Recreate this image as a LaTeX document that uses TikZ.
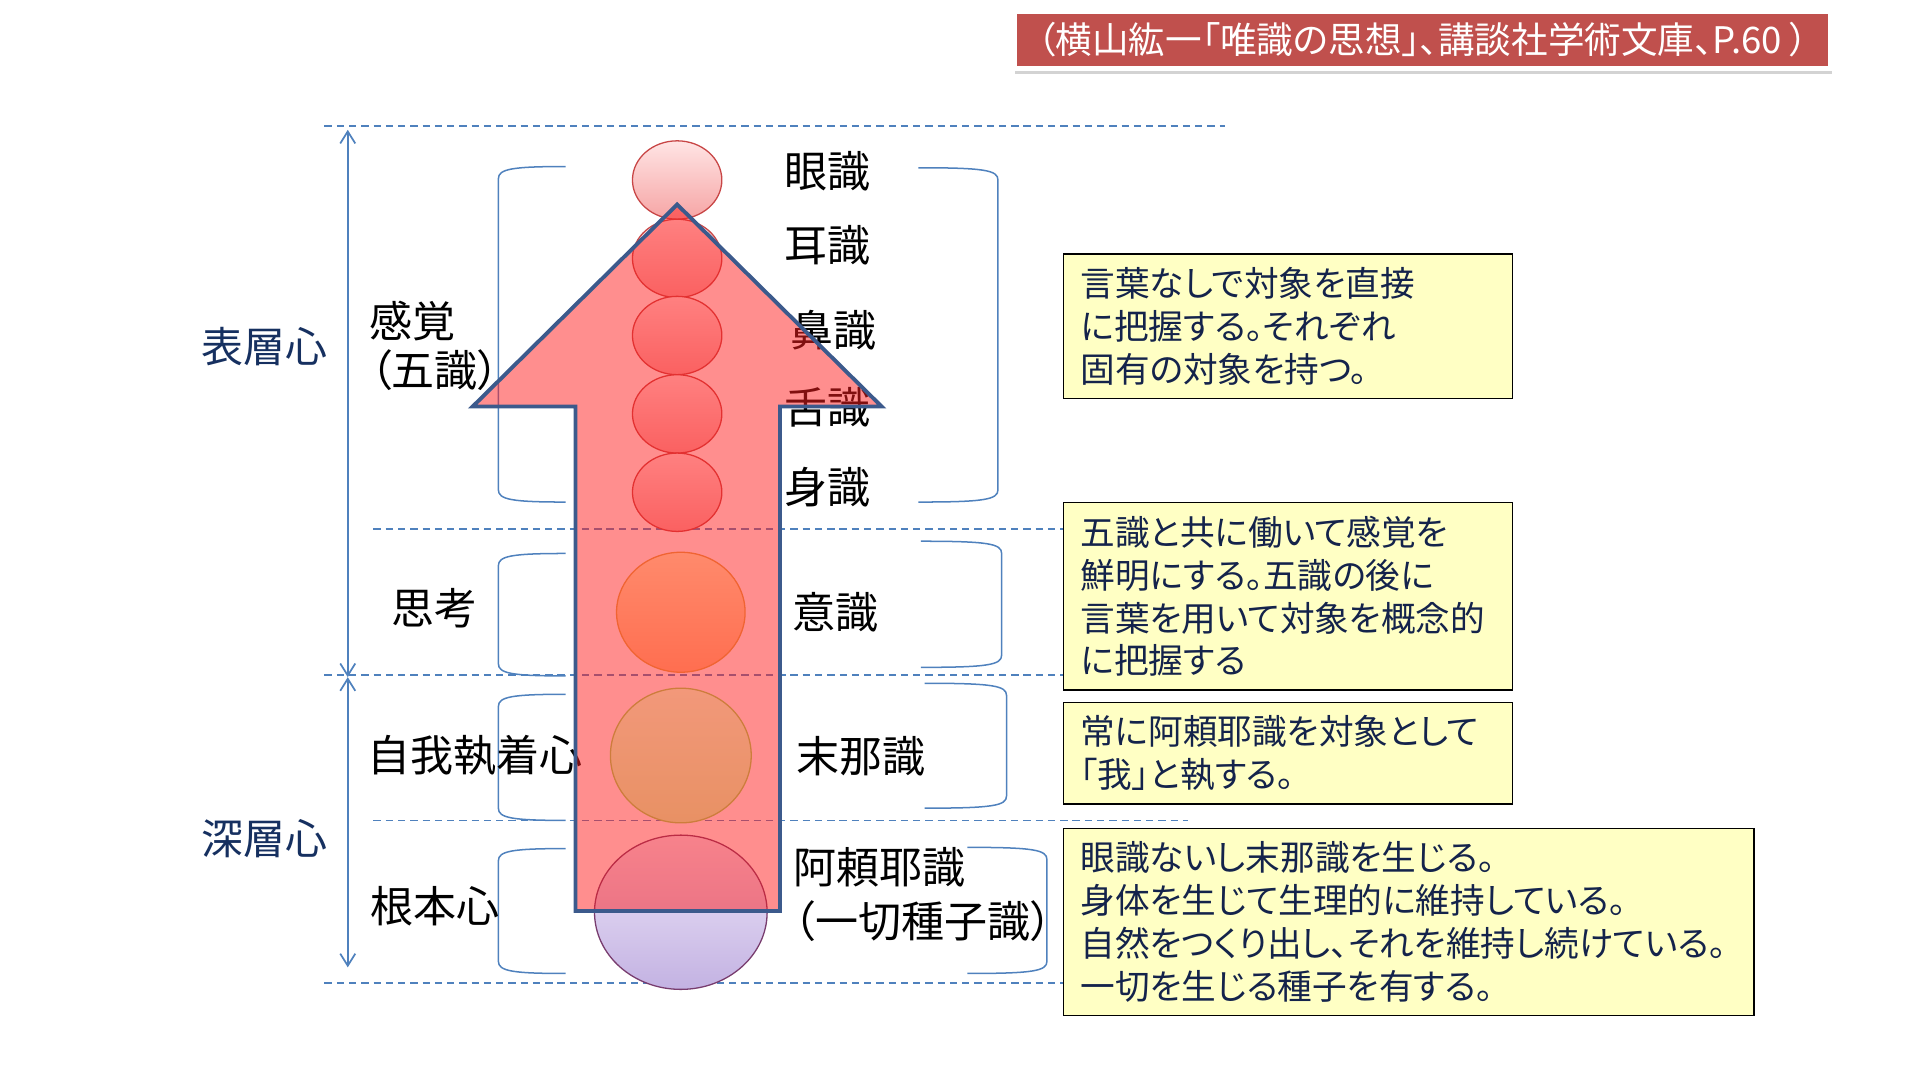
\documentclass[tikz,border=0pt]{standalone}
\usepackage{fontspec}
\usetikzlibrary{arrows.meta,shapes.geometric,shadows}
\newfontfamily\jp[RawFeature=+palt]{Noto Sans CJK JP}
\definecolor{lineblue}{RGB}{79,129,189}
\definecolor{navy}{RGB}{22,48,96}
\definecolor{titlered}{RGB}{192,80,77}
\definecolor{arrowred}{RGB}{255,30,30}
\definecolor{arrowedge}{RGB}{60,90,140}
\definecolor{memofill}{RGB}{255,255,196}
\definecolor{memotext}{RGB}{20,35,75}
\definecolor{orbtop}{RGB}{255,228,228}
\definecolor{orbbot}{RGB}{246,165,165}
\definecolor{orbedge}{RGB}{200,70,70}

\begin{document}
\begin{tikzpicture}
[
    x=0.02cm, y=-0.02cm,
    every node/.style={font=\jp, inner sep=0pt},
    word/.style={font=\jp\fontsize{20pt}{24pt}\selectfont},
    layer/.style={font=\jp\fontsize{19.5pt}{24pt}\selectfont, text=navy},
    guide/.style={lineblue, dash pattern=on 3.4pt off 2.3pt, line width=0.8pt},
    brak/.style={lineblue, line width=0.7pt},
    span/.style={lineblue, line width=0.8pt,
        {Straight Barb[length=5.6pt,width=7pt]}-{Straight Barb[length=5.6pt,width=7pt]}},
    orb/.style={ellipse, draw=orbedge, line width=0.6pt, top color=orbtop, bottom color=orbbot},
    memo/.style={draw=black, line width=0.6pt, fill=memofill, anchor=north west,
        inner xsep=0.28cm, align=left, text=memotext,
        font=\jp\fontsize{16.1pt}{19.9pt}\selectfont},
]
\useasboundingbox (0,0) rectangle (1568,882);

% source
\node [fill=titlered, draw=white, line width=2.5pt, text=white,
       minimum width=13.34cm, minimum height=0.94cm,
       drop shadow={shadow xshift=0.4pt, shadow yshift=-2.5pt, opacity=0.35},
       font=\jp\fontsize{17pt}{20pt}\selectfont]
    (title) at (1162,32.5) {（横山紘一「唯識の思想」、講談社学術文庫、P.60 ）};

% layer guides
\draw[guide] (265,103) -- (1000,103);
\draw[guide] (305,432) -- (868,432);
\draw[guide] (265,551) -- (868,551);
\draw[guide] (305,670) -- (970,670);
\draw[guide] (265,803) -- (868,803);

\coordinate (surfTop) at (284,106);
\coordinate (split) at (284,553);
\coordinate (deepBot) at (284,790);
\draw[span] (surfTop) -- (split);
\draw[span] (split) -- (deepBot);

% brackets
\foreach \ya/\yb in {136/410, 452/552, 567/670, 693/795}
    \draw[brak] (462,\ya) .. controls (418,\ya) and (407,\ya+2) .. (407,\ya+10)
        -- (407,\yb-10) .. controls (407,\yb-2) and (418,\yb) .. (462,\yb);
\foreach \xa/\xb/\ya/\yb in {750/815/137/410, 752/818/442/545, 755/822/558/660, 790/855/692/795}
    \draw[brak] (\xa,\ya) .. controls (\xb-11,\ya) and (\xb,\ya+2) .. (\xb,\ya+10)
        -- (\xb,\yb-10) .. controls (\xb,\yb-2) and (\xb-11,\yb) .. (\xa,\yb);

% left labels
\node [layer] (surface) at (216,283) {表層心};
\node [layer] (deep) at (216,685) {深層心};
\node [word] (sense) at (337,262) {感覚};
\node [word] (senseFive) at (355,302) {（五識）};
\node [word] (thought) at (355,497) {思考};
\node [word] (ego) at (388,617) {自我執着心};
\node [word] (root) at (355,740) {根本心};

% right labels
\foreach \x/\y/\n/\t in {640/140/lEye/眼識, 640/200/lEar/耳識, 645/270/lNose/鼻識,
        640/333/lTongue/舌識, 640/398/lBody/身識, 647/500/lMind/意識,
        650/618/lManas/末那識, 648/708/lAlaya/阿頼耶識, 648/752/lSeed/（一切種子識）}
    \node [word, anchor=west] (\n) at (\x,\y) {\t};

% five senses
\foreach \y/\n in {147/eye, 211/ear, 274/nose, 338/tongue, 402/body}
    \node [orb, minimum width=1.46cm, minimum height=1.28cm] (\n) at (553,\y) {};
\node [orb, draw={rgb,255:red,120;green,60;blue,110},
       top color={rgb,255:red,240;green,232;blue,250},
       bottom color={rgb,255:red,195;green,178;blue,226},
       minimum width=2.82cm, minimum height=2.52cm] (alaya) at (556,745) {};

% big arrow
\coordinate (aTip) at (553,167);
\coordinate (aRight) at (720,332);
\coordinate (aRightIn) at (637,332);
\coordinate (aRightBot) at (637,744);
\coordinate (aLeftBot) at (470,744);
\coordinate (aLeftIn) at (470,332);
\coordinate (aLeft) at (386,332);
\fill[arrowred, opacity=0.5] (aTip) -- (aRight) -- (aRightIn) -- (aRightBot)
    -- (aLeftBot) -- (aLeftIn) -- (aLeft) -- cycle;

\node [orb, draw={rgb,255:red,240;green,100;blue,50},
       top color={rgb,255:red,255;green,138;blue,108},
       bottom color={rgb,255:red,255;green,110;blue,80},
       minimum width=2.1cm, minimum height=1.96cm] (mind) at (556,500) {};
\node [orb, draw={rgb,255:red,205;green,125;blue,60},
       top color={rgb,255:red,242;green,152;blue,122},
       bottom color={rgb,255:red,232;green,145;blue,100},
       minimum width=2.3cm, minimum height=2.2cm] (manas) at (556,617) {};

\draw[arrowedge, line width=1.8pt, line join=miter] (aTip) -- (aRight) -- (aRightIn)
    -- (aRightBot) -- (aLeftBot) -- (aLeftIn) -- (aLeft) -- cycle;

% notes
\node [memo, minimum width=7.34cm, minimum height=2.36cm, text width=6.78cm] (noteSense) at (868,207)
    {言葉なしで対象を直接\\に把握する。それぞれ\\固有の対象を持つ。};
\node [memo, minimum width=7.34cm, minimum height=3.06cm, text width=6.78cm] (noteMind) at (868,410)
    {五識と共に働いて感覚を\\鮮明にする。五識の後に\\言葉を用いて対象を概念的\\に把握する};
\node [memo, minimum width=7.34cm, minimum height=1.66cm, text width=6.78cm] (noteManas) at (868,573)
    {常に阿頼耶識を対象として\\「我」と執する。};
\node [memo, minimum width=11.28cm, minimum height=3.06cm, text width=10.72cm] (noteAlaya) at (868,676)
    {眼識ないし末那識を生じる。\\身体を生じて生理的に維持している。\\自然をつくり出し、それを維持し続けている。\\一切を生じる種子を有する。};
\end{tikzpicture}
\end{document}
